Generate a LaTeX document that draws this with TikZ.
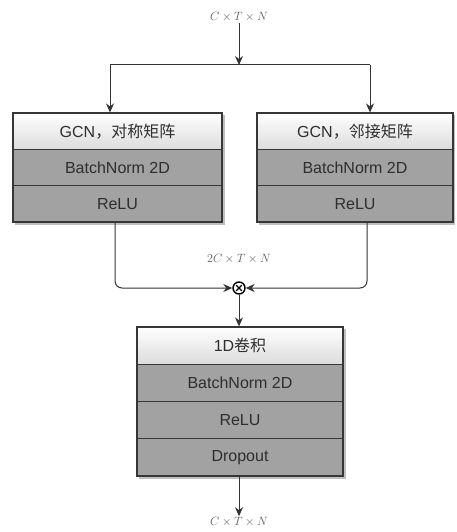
\documentclass[tikz,border=0pt]{standalone}
\usepackage{fontspec}
\setmainfont{Liberation Sans}
\newfontfamily\cjk{Noto Sans CJK SC}
\usetikzlibrary{arrows.meta,calc}
\definecolor{rowgray}{HTML}{A2A2A2}
\definecolor{rowlight}{HTML}{ECECEC}
\definecolor{edgecol}{HTML}{363636}
\definecolor{labcol}{HTML}{5A5A5A}
\begin{document}
\begin{tikzpicture}[x=1pt,y=-1pt,
  base/.style={draw=edgecol,line width=1.2pt,inner sep=0pt,font=\fontsize{16}{18}\selectfont,text=black!82},
  lightrow/.style={base,top color=white,bottom color=rowlight!85!gray},
  grayrow/.style={base,fill=rowgray},
  dimlabel/.style={text=labcol,font=\fontsize{12.5}{14}\selectfont,inner sep=1pt},
  conn/.style={draw=black!80,line width=1pt},
  arr/.style={conn,-{Stealth[length=9pt,width=8pt]}},
  shadowbox/.style={fill=black!25,draw=none}
]
\useasboundingbox (0,0) rectangle (456,532);

% top label
\node[dimlabel] (top) at (239,17) {$C\times T\times N$};
\coordinate (split) at (239,65);
\coordinate (sl) at (110,65);
\coordinate (sr) at (370,65);
\coordinate (lx) at (115,0);
\coordinate (rx) at (367,0);
\coordinate (cx) at (239,0);

% shadows
\fill[shadowbox] (15,115) rectangle (225,225);
\fill[shadowbox] (259,115) rectangle (455,225);
\fill[shadowbox] (139,329) rectangle (346,479);

% left box
\node[lightrow,minimum width=209pt,minimum height=36.3pt] (l1) at (117.5,131.2) {GCN{\cjk ，对称矩阵}};
\node[grayrow,minimum width=209pt,minimum height=36.3pt] (l2) at (117.5,167.5) {BatchNorm 2D};
\node[grayrow,minimum width=209pt,minimum height=36.3pt] (l3) at (117.5,203.8) {ReLU};

% right box
\node[lightrow,minimum width=196pt,minimum height=36.3pt] (r1) at (355,131.2) {GCN{\cjk ，邻接矩阵}};
\node[grayrow,minimum width=196pt,minimum height=36.3pt] (r2) at (355,167.5) {BatchNorm 2D};
\node[grayrow,minimum width=196pt,minimum height=36.3pt] (r3) at (355,203.8) {ReLU};

% merge
\node[draw=black,line width=1.4pt,circle,minimum size=12pt,inner sep=0pt] (mul) at (239,288) {};
\draw[black,line width=1.1pt] ($(mul.center)+(-2.8,-2.8)$) -- ($(mul.center)+(2.8,2.8)$);
\draw[black,line width=1.1pt] ($(mul.center)+(-2.8,2.8)$) -- ($(mul.center)+(2.8,-2.8)$);
\node[dimlabel] (mid) at (239,259) {$2C\times T\times N$};

% bottom box
\node[lightrow,minimum width=206pt,minimum height=37.25pt] (b1) at (240,345.6) {1D{\cjk 卷积}};
\node[grayrow,minimum width=206pt,minimum height=37.25pt] (b2) at (240,382.9) {BatchNorm 2D};
\node[grayrow,minimum width=206pt,minimum height=37.25pt] (b3) at (240,420.1) {ReLU};
\node[grayrow,minimum width=206pt,minimum height=37.25pt] (b4) at (240,457.4) {Dropout};

\node[dimlabel] (bot) at (239,522) {$C\times T\times N$};

% connectors
\draw[arr] (top) -- (split);
\draw[conn] (sl) -- (sr);
\draw[arr] (sl) -- (sl |- l1.north);
\draw[arr] (sr) -- (sr |- r1.north);
\draw[arr,rounded corners=7pt] (l3.south -| lx) |- (mul.west);
\draw[arr,rounded corners=7pt] (r3.south -| rx) |- (mul.east);
\draw[arr] (mul) -- (b1.north -| mul);
\draw[arr] (b4.south -| cx) -- (bot.north);
\end{tikzpicture}
\end{document}
